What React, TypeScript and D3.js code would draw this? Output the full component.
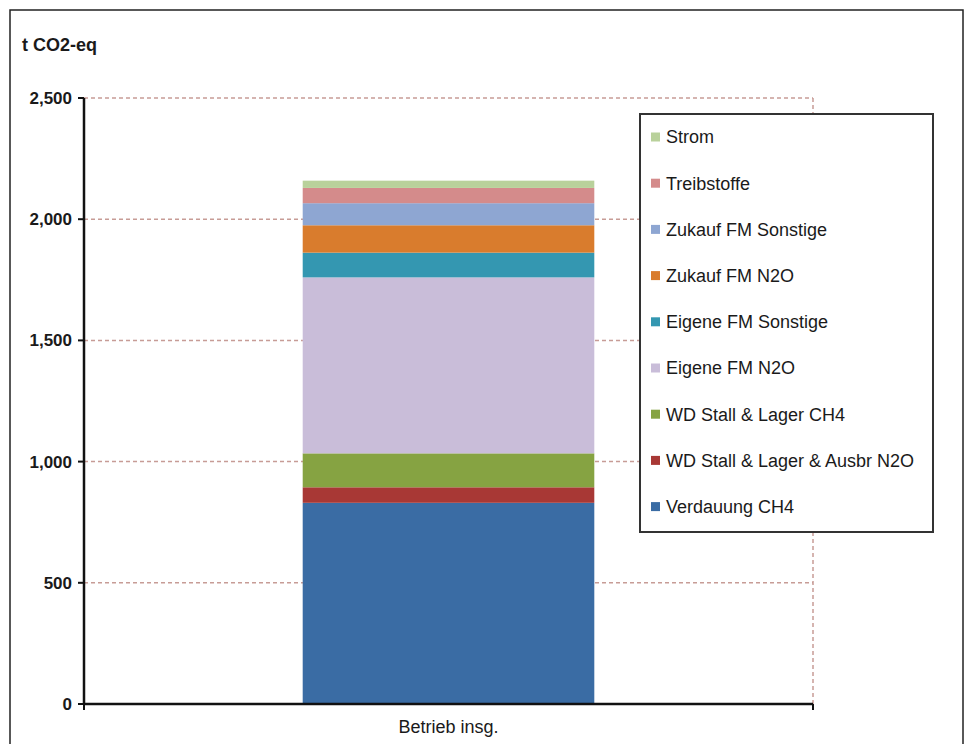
import React from "react";
import * as d3 from "d3";

// Emission sources, bottom to top of the stack
const sources = [
  "Verdauung CH4",
  "WD Stall & Lager & Ausbr N2O",
  "WD Stall & Lager CH4",
  "Eigene FM N2O",
  "Eigene FM Sonstige",
  "Zukauf FM N2O",
  "Zukauf FM Sonstige",
  "Treibstoffe",
  "Strom",
];
const values = [830, 64, 140, 726, 102, 113, 91, 63, 30];
const colors = [
  "#3a6ca4",
  "#a83835",
  "#86a342",
  "#c9bdd9",
  "#3497b1",
  "#d97c2d",
  "#8ea6d2",
  "#d48b8b",
  "#b9d19b",
];
const categories = ["Betrieb insg."];
const yTicks = [0, 500, 1000, 1500, 2000, 2500];
const unitLabel = "t CO2-eq";

const W = 969;
const H = 744;
const plot = { left: 84, right: 813, top: 98, bottom: 704 };

export default function App() {
  const y = d3.scaleLinear().domain([0, 2500]).range([plot.bottom, plot.top]);
  const x = d3
    .scaleBand()
    .domain(categories)
    .range([plot.left, plot.right])
    .paddingInner(0)
    .paddingOuter(0.75);
  const fmt = d3.format(",");

  const cum = d3.cumsum(values);
  const segs = values.map((v, i) => ({
    name: sources[i],
    color: colors[i],
    y0: cum[i] - v,
    y1: cum[i],
  }));

  const legendItems = [...segs].reverse();
  const font = "'Liberation Sans', Arial, sans-serif";
  const grid = "#c79c96";

  return (
    <svg
      width={W}
      height={H}
      style={{ position: "absolute", left: 0, top: 0, background: "#fff" }}
      fontFamily={font}
    >
      {/* outer frame */}
      <rect x={10} y={10} width={953} height={760} fill="none" stroke="#222" strokeWidth={1.5} />

      <text x={22} y={51} fontSize={18} fontWeight="bold" fill="#1a1a1a">
        {unitLabel}
      </text>

      {/* gridlines */}
      {yTicks
        .filter((t) => t > 0)
        .map((t) => (
          <line
            key={t}
            x1={plot.left}
            x2={plot.right}
            y1={y(t)}
            y2={y(t)}
            stroke={grid}
            strokeWidth={1.5}
            strokeDasharray="4,3"
          />
        ))}
      <line
        x1={plot.right}
        x2={plot.right}
        y1={plot.top}
        y2={plot.bottom}
        stroke={grid}
        strokeWidth={1.5}
        strokeDasharray="4,3"
      />

      {/* stacked bar */}
      {categories.map((c) =>
        segs.map((s) => (
          <rect
            key={c + s.name}
            x={x(c)}
            width={x.bandwidth()}
            y={y(s.y1)}
            height={y(s.y0) - y(s.y1)}
            fill={s.color}
          />
        ))
      )}

      {/* y axis */}
      <line x1={plot.left} x2={plot.left} y1={plot.top} y2={plot.bottom + 1} stroke="#111" strokeWidth={2.5} />
      {yTicks.map((t) => (
        <g key={t}>
          <line x1={plot.left - 6} x2={plot.left} y1={y(t)} y2={y(t)} stroke="#111" strokeWidth={2} />
          <text
            x={plot.left - 12}
            y={y(t)}
            dy="0.35em"
            textAnchor="end"
            fontSize={17}
            fontWeight="bold"
            fill="#1a1a1a"
          >
            {fmt(t)}
          </text>
        </g>
      ))}

      {/* x axis */}
      <line x1={plot.left} x2={plot.right} y1={plot.bottom} y2={plot.bottom} stroke="#111" strokeWidth={2.5} />
      {[plot.left, plot.right].map((px) => (
        <line key={px} x1={px} x2={px} y1={plot.bottom} y2={plot.bottom + 6} stroke="#111" strokeWidth={2} />
      ))}
      {categories.map((c) => (
        <text
          key={c}
          x={(x(c) ?? 0) + x.bandwidth() / 2}
          y={733}
          textAnchor="middle"
          fontSize={18}
          fill="#1a1a1a"
        >
          {c}
        </text>
      ))}

      {/* legend */}
      <g>
        <rect x={640} y={114} width={293} height={418} fill="#fff" stroke="#333" strokeWidth={2} />
        {legendItems.map((s, i) => {
          const cy = 137 + i * 46.2;
          return (
            <g key={s.name}>
              <rect x={651} y={cy - 4.5} width={9} height={9} fill={s.color} />
              <text x={666} y={cy} dy="0.35em" fontSize={18} fill="#1a1a1a">
                {s.name}
              </text>
            </g>
          );
        })}
      </g>
    </svg>
  );
}
